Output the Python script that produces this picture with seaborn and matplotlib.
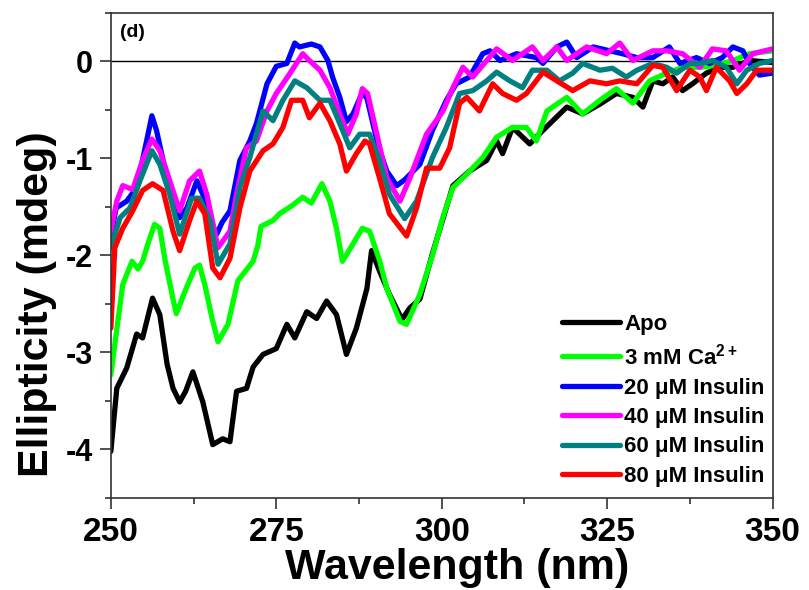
import numpy as np
import pandas as pd
import seaborn as sns
import matplotlib.pyplot as plt
from matplotlib.ticker import MultipleLocator

sns.set_style('ticks')
plt.rcParams['font.family'] = ['Liberation Sans', 'DejaVu Sans']
plt.rcParams['font.weight'] = 'bold'
plt.rcParams['text.color'] = 'black'
plt.rcParams['xtick.color'] = 'black'
plt.rcParams['ytick.color'] = 'black'
plt.rcParams['axes.labelcolor'] = 'black'
plt.rcParams['axes.unicode_minus'] = False
plt.rcParams['mathtext.fontset'] = 'custom'
plt.rcParams['mathtext.bf'] = 'Liberation Sans:bold'
plt.rcParams['mathtext.rm'] = 'Liberation Sans:bold'

# data (wavelength nm, ellipticity mdeg)
apo_x = [250.0, 250.9, 252.4, 253.9, 254.8, 256.3, 257.4, 258.5, 259.4, 260.4, 261.3, 262.4, 263.9,
         265.4, 266.9, 268.0, 269.0, 270.5, 271.5, 273.0, 275.0, 276.6, 277.8, 279.6, 281.1, 282.6,
         284.1, 285.6, 287.1, 288.7, 289.4, 290.6, 292.1, 294.0, 295.2, 296.7, 298.6, 300.2, 301.7,
         304.2, 306.8, 308.3, 309.2, 310.7, 313.3, 315.3, 318.9, 321.3, 323.9, 326.4, 328.9, 330.4,
         331.9, 333.4, 334.9, 336.4, 337.9, 340.0, 342.0, 344.0, 346.5, 350.0]
apo_y = [-4.02, -3.37, -3.16, -2.81, -2.85, -2.44, -2.61, -3.12, -3.37, -3.51, -3.40, -3.20, -3.51,
         -3.95, -3.89, -3.92, -3.40, -3.37, -3.15, -3.02, -2.96, -2.71, -2.85, -2.58, -2.65, -2.47,
         -2.61, -3.02, -2.75, -2.34, -1.95, -2.16, -2.40, -2.66, -2.54, -2.45, -1.98, -1.62, -1.28,
         -1.13, -1.02, -0.82, -0.95, -0.68, -0.85, -0.71, -0.47, -0.54, -0.44, -0.33, -0.37, -0.47,
         -0.20, -0.23, -0.16, -0.30, -0.23, -0.12, -0.06, -0.06, 0.01, -0.01]

ca_x = [250.0, 251.0, 251.8, 253.2, 254.1, 254.8, 255.6, 256.6, 257.4, 258.2, 259.4, 259.9, 261.2,
        262.7, 263.4, 264.2, 265.3, 266.2, 267.7, 269.2, 270.7, 271.5, 272.2, 272.7, 274.5, 275.5,
        277.5, 279.0, 280.3, 281.9, 283.1, 284.1, 285.0, 286.6, 288.0, 289.1, 290.6, 291.7, 293.7,
        294.7, 296.7, 298.6, 300.2, 301.7, 303.8, 306.2, 308.3, 310.7, 312.8, 314.3, 315.9, 318.9,
        321.3, 323.9, 326.4, 328.9, 331.4, 334.0, 336.4, 339.0, 341.5, 344.0, 346.5, 350.0]
ca_y = [-3.23, -2.71, -2.30, -2.06, -2.14, -2.06, -1.88, -1.68, -1.72, -2.05, -2.45, -2.60, -2.37,
        -2.13, -2.10, -2.30, -2.65, -2.89, -2.71, -2.26, -2.13, -2.06, -1.90, -1.70, -1.64, -1.57,
        -1.48, -1.40, -1.46, -1.26, -1.44, -1.72, -2.06, -1.88, -1.72, -1.75, -2.05, -2.34, -2.68,
        -2.71, -2.40, -2.00, -1.60, -1.30, -1.16, -0.99, -0.78, -0.68, -0.68, -0.82, -0.51, -0.37,
        -0.54, -0.40, -0.28, -0.43, -0.20, -0.12, -0.06, -0.06, -0.04, 0.01, 0.08, 0.11]

ins20_x = [250.0, 250.8, 252.4, 253.9, 255.4, 256.2, 256.9, 257.9, 259.4, 260.4, 261.5, 263.0, 263.9,
           265.0, 266.0, 266.8, 268.0, 269.5, 271.0, 272.0, 273.6, 275.0, 276.6, 277.8, 278.5, 280.3,
           281.6, 282.8, 283.5, 284.6, 285.6, 286.6, 288.0, 288.7, 290.4, 291.7, 293.2, 294.4, 296.7,
           298.6, 300.7, 302.2, 304.2, 306.2, 307.3, 308.8, 311.3, 314.3, 315.3, 317.4, 318.9, 320.4,
           322.9, 325.4, 327.3, 329.5, 331.9, 334.4, 336.0, 338.5, 340.5, 342.4, 344.0, 345.5, 346.5,
           348.0, 350.0]
ins20_y = [-1.80, -1.51, -1.44, -1.30, -0.82, -0.56, -0.71, -1.02, -1.41, -1.61, -1.51, -1.23, -1.37,
           -1.64, -1.78, -1.66, -1.54, -1.02, -0.82, -0.64, -0.23, -0.05, -0.02, 0.19, 0.15, 0.18,
           0.15, 0.01, -0.16, -0.37, -0.62, -0.54, -0.32, -0.38, -0.87, -1.13, -1.28, -1.22, -1.06,
           -0.71, -0.40, -0.23, -0.16, 0.08, 0.11, 0.01, 0.08, 0.04, -0.02, 0.15, 0.20, 0.04,
           0.15, 0.11, 0.08, 0.04, 0.04, 0.15, -0.02, 0.04, -0.02, 0.04, 0.15, 0.11, -0.02,
           -0.14, -0.12]

ins40_x = [250.0, 250.9, 251.8, 253.3, 254.8, 256.2, 257.4, 258.9, 260.4, 261.9, 263.4, 264.5, 266.2,
           268.0, 269.0, 270.5, 272.0, 273.6, 275.0, 277.0, 279.0, 280.0, 281.6, 283.1, 284.6, 285.8,
           287.1, 288.0, 288.8, 290.2, 291.7, 293.7, 295.2, 297.7, 300.2, 301.7, 303.2, 304.7, 306.8,
           308.3, 310.7, 313.7, 315.3, 317.4, 318.9, 321.9, 324.9, 326.9, 328.9, 331.9, 334.0, 336.4,
           339.0, 340.9, 343.0, 345.0, 347.0, 350.0]
ins40_y = [-1.75, -1.44, -1.28, -1.32, -1.02, -0.80, -0.92, -1.23, -1.54, -1.23, -1.13, -1.37, -1.92,
           -1.75, -1.37, -0.89, -0.82, -0.51, -0.33, -0.13, 0.08, 0.01, -0.09, -0.27, -0.54, -0.75,
           -0.54, -0.28, -0.33, -0.75, -1.20, -1.44, -1.20, -0.75, -0.51, -0.27, -0.06, -0.16, 0.01,
           0.13, 0.01, 0.15, 0.01, 0.15, 0.01, 0.15, 0.08, 0.19, 0.01, 0.11, 0.11, 0.08,
           -0.06, 0.13, 0.11, -0.09, 0.08, 0.13]

ins60_x = [250.0, 251.4, 252.9, 254.4, 256.2, 257.4, 258.9, 260.4, 262.2, 263.4, 265.0, 266.2, 268.0,
           269.5, 271.0, 273.0, 274.5, 276.0, 277.8, 279.6, 281.6, 283.1, 284.6, 286.1, 287.6, 289.1,
           290.6, 292.1, 294.4, 296.2, 298.6, 300.7, 302.7, 304.7, 306.8, 308.3, 310.3, 312.2, 313.7,
           315.9, 317.8, 319.8, 321.3, 323.9, 325.8, 327.9, 329.5, 331.9, 334.0, 335.5, 337.5, 339.0,
           340.9, 343.0, 344.6, 346.1, 348.0, 350.0]
ins60_y = [-1.92, -1.61, -1.51, -1.23, -0.92, -1.06, -1.37, -1.78, -1.41, -1.41, -1.64, -2.09, -1.88,
           -1.30, -0.99, -0.51, -0.61, -0.40, -0.20, -0.27, -0.40, -0.40, -0.64, -0.89, -0.75, -0.75,
           -1.02, -1.37, -1.62, -1.44, -0.99, -0.68, -0.33, -0.30, -0.20, -0.11, -0.20, -0.27, -0.09,
           -0.09, -0.20, -0.12, -0.02, -0.09, -0.07, -0.16, -0.09, -0.02, -0.06, -0.12, -0.02, -0.02,
           0.01, -0.06, -0.23, -0.09, -0.02, 0.01]

ins80_x = [250.0, 250.6, 251.8, 253.3, 254.8, 256.3, 257.9, 259.4, 260.4, 261.9, 263.0, 264.2, 265.4,
           266.5, 268.0, 269.5, 271.0, 273.0, 274.5, 276.0, 277.3, 279.0, 280.0, 281.6, 283.1, 284.6,
           285.6, 287.1, 288.4, 289.1, 290.6, 292.1, 294.7, 296.2, 297.7, 299.7, 301.2, 302.7, 303.8,
           305.7, 307.7, 309.2, 311.3, 312.8, 315.3, 317.4, 319.8, 322.4, 324.9, 326.9, 329.5, 331.9,
           333.4, 335.5, 337.5, 339.0, 340.0, 341.5, 343.5, 344.6, 346.1, 347.6, 350.0]
ins80_y = [-2.75, -1.92, -1.72, -1.54, -1.33, -1.26, -1.33, -1.75, -1.95, -1.64, -1.44, -1.57, -2.13,
           -2.23, -2.03, -1.51, -1.13, -0.92, -0.85, -0.68, -0.40, -0.40, -0.58, -0.43, -0.61, -0.85,
           -1.13, -0.95, -0.82, -0.85, -1.20, -1.57, -1.80, -1.51, -1.10, -1.10, -0.89, -0.43, -0.37,
           -0.51, -0.23, -0.33, -0.40, -0.33, -0.11, -0.20, -0.30, -0.20, -0.23, -0.20, -0.23, -0.04,
           -0.06, -0.30, -0.09, -0.16, -0.30, -0.06, -0.20, -0.33, -0.23, -0.09, -0.09]

labels = ['Apo', '3 mM Ca$^{2+}$', '20 \u03bcM Insulin', '40 \u03bcM Insulin',
          '60 \u03bcM Insulin', '80 \u03bcM Insulin']
colors = ['#000000', '#00ff00', '#0000ff', '#ff00ff', '#008080', '#ff0000']

series = [(apo_x, apo_y), (ca_x, ca_y), (ins20_x, ins20_y), (ins40_x, ins40_y),
          (ins60_x, ins60_y), (ins80_x, ins80_y)]
df = pd.concat([pd.DataFrame({'wl': x, 'ell': y, 'sample': lab})
                for (x, y), lab in zip(series, labels)], ignore_index=True)

#===============================================================================
fig = plt.figure(figsize=(8.09, 5.90), dpi=100)
ax = fig.add_axes([0.137, 0.156, 0.818, 0.822])

sns.lineplot(data=df, x='wl', y='ell', hue='sample', hue_order=labels,
             palette=dict(zip(labels, colors)), estimator=None, sort=False,
             lw=3.8, ax=ax)
for ln in ax.lines:
    ln.set_solid_joinstyle('round')
    ln.set_solid_capstyle('round')

# zero line
ax.axhline(0, color='black', lw=1.0, zorder=0)

# limits and ticks
ax.set_xlim(250, 350)
ax.set_ylim(-4.5, 0.5)
ax.set_xticks([250, 275, 300, 325, 350])
ax.set_yticks([0, -1, -2, -3, -4])
ax.xaxis.set_minor_locator(MultipleLocator(12.5))
ax.yaxis.set_minor_locator(MultipleLocator(0.5))
ax.tick_params(which='major', direction='out', length=8, width=1.2, color='#333333')
ax.tick_params(which='minor', direction='out', length=4, width=1.2, color='#333333')
ax.tick_params(axis='x', which='major', labelsize=24, pad=6)
ax.tick_params(axis='y', which='major', labelsize=22, pad=5)
for lab in ax.get_xticklabels() + ax.get_yticklabels():
    lab.set_fontweight('bold')

for s in ax.spines.values():
    s.set_visible(True)
    s.set_linewidth(1.2)
    s.set_color('#333333')

# labels
ax.set_xlabel('Wavelength (nm)', fontsize=31, fontweight='bold')
ax.set_ylabel('Ellipticity (mdeg)', fontsize=31, fontweight='bold')
ax.xaxis.set_label_coords(0.524, -0.104)
ax.yaxis.set_label_coords(-0.082, 0.40)

ax.text(0.014, 0.977, '(d)', transform=ax.transAxes, fontsize=14,
        fontweight='bold', va='top', ha='left')

# legend
handles, labs = ax.get_legend_handles_labels()
for h in handles:
    h.set_linewidth(3.8)
leg = ax.legend(handles, labs, loc='lower right', bbox_to_anchor=(1.005, 0.0),
                frameon=False, fontsize=16, handlelength=2.6, handletextpad=0.2,
                labelspacing=0.38, borderaxespad=0.1)
for t in leg.get_texts():
    t.set_fontweight('bold')

fig.savefig('out.png', dpi=100)
plt.close()
